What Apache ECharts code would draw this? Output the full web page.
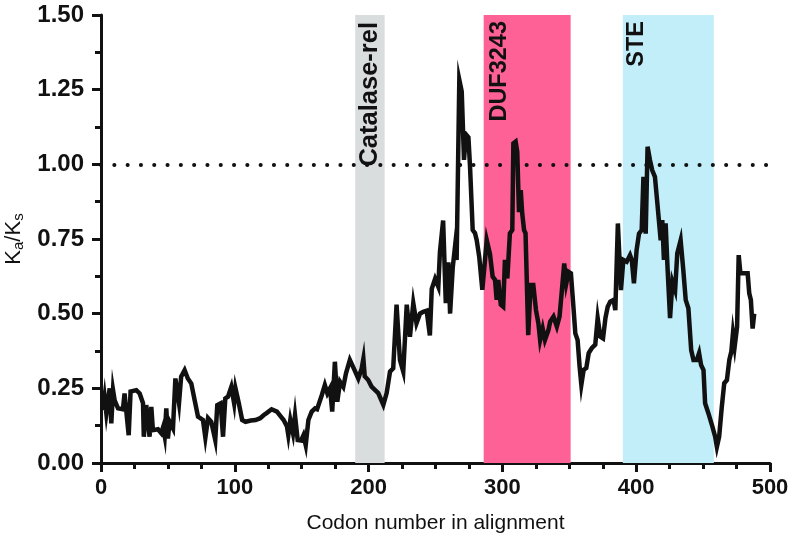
<!DOCTYPE html>
<html>
<head>
<meta charset="utf-8">
<script src="https://cdn.jsdelivr.net/npm/echarts@6/dist/echarts.min.js"></script>
<style>
  html, body { margin: 0; padding: 0; background: #fff; }
  #chart { width: 793px; height: 549px; }
</style>
</head>
<body>
<div id="chart"></div>
<script>
// codon position along the alignment
var codon = [
  1.5, 2.7, 4, 6.5, 7.7, 9, 10.2, 12.7, 16.4, 17.6, 20.7, 22.1, 26.4, 28.9, 31.4, 32, 33.8, 36.3, 37.6, 38.8,
  42.6, 45, 46.4, 47.6, 48.8, 50, 51.3, 53.8, 55.6, 58.3, 59.9, 62.5, 64.9, 67.5, 70, 72.5, 76.2, 78, 80, 82.4,
  85.4, 86.9, 89.4, 91.2, 92.9, 94.9, 97.4, 99.5, 100.5, 103, 105.5, 108, 112, 115.5, 119, 121.5, 124, 127.5, 131.5, 134,
  136.5, 139, 140, 141.5, 143.5, 145, 147, 149.5, 151.3, 153, 155, 157.5, 160, 161.5, 165, 167.3, 169.2, 171.2, 172.8, 174.8,
  176.6, 178.7, 181.1, 183.1, 186, 189, 192.3, 194.8, 196.1, 197.1, 199.7, 202.2, 204.7, 207.2, 211, 213.5, 216, 218.4, 220.9, 223.4,
  225.9, 228.5, 230.9, 233.4, 235.8, 238.4, 240.8, 243.4, 245.8, 247.2, 249.7, 252.1, 253.3, 255.7, 257.7, 259.6, 260.9, 262.9, 264.6, 265.8,
  267.8, 269.6, 271.3, 272.8, 274.6, 275.8, 277.8, 279.5, 280.8, 282.7, 285, 288.3, 290.7, 292.7, 294.5, 295.7, 296.9, 298.8, 300.6, 301.9,
  303.7, 305.6, 307.4, 308.2, 309.9, 311.1, 312.4, 313.7, 314.8, 316.2, 317.3, 319.3, 321.1, 323.1, 325.1, 326.9, 328.2, 330.1, 331.8, 334.4,
  335.7, 338.2, 340.7, 342.7, 344.5, 346.2, 347.7, 349.5, 351.2, 352.7, 354.5, 356.2, 357.7, 359, 360.7, 362.7, 364.5, 366.9, 369.4, 371.2,
  373.2, 375.2, 377, 378.7, 380.6, 383.1, 384.4, 386.3, 388.6, 390.4, 392.9, 395.4, 396.7, 398.3, 400.3, 402.1, 404.1, 405.4, 407.1, 408.5,
  410.3, 412, 414, 415.7, 417, 418.3, 419.5, 420.7, 422, 423.5, 425.3, 427.1, 429.1, 430.7, 433.2, 435.2, 437, 439, 441.1, 442.8,
  445.3, 447, 448.5, 450.3, 451.5, 454, 457, 459, 460.3, 462, 464, 465.8, 467.8, 469.6, 471.1, 472.3, 473.6, 475.4, 476.6, 477.9,
  480.3, 483.3, 484.5, 485.7, 487, 488.2
];
// Ka/Ks ratio at each codon
var kaks = [
  0.177, 0.221, 0.166, 0.25, 0.133, 0.244, 0.21, 0.183, 0.18, 0.233, 0.093, 0.239, 0.244, 0.233, 0.2, 0.088, 0.194, 0.088, 0.188, 0.11,
  0.113, 0.1, 0.12, 0.09, 0.183, 0.082, 0.138, 0.116, 0.283, 0.2, 0.289, 0.311, 0.283, 0.266, 0.21, 0.155, 0.144, 0.085, 0.15, 0.138,
  0.077, 0.194, 0.2, 0.088, 0.216, 0.222, 0.255, 0.2, 0.25, 0.2, 0.144, 0.138, 0.142, 0.144, 0.15, 0.16, 0.168, 0.18, 0.172, 0.158,
  0.144, 0.122, 0.093, 0.144, 0.1, 0.16, 0.077, 0.075, 0.093, 0.06, 0.144, 0.172, 0.183, 0.18, 0.227, 0.261, 0.233, 0.25, 0.172, 0.339,
  0.205, 0.272, 0.255, 0.3, 0.345, 0.316, 0.283, 0.316, 0.349, 0.29, 0.278, 0.256, 0.245, 0.234, 0.195, 0.234, 0.306, 0.317, 0.53, 0.345,
  0.306, 0.53, 0.423, 0.535, 0.468, 0.5, 0.506, 0.51, 0.427, 0.583, 0.617, 0.59, 0.706, 0.812, 0.535, 0.672, 0.5, 0.655, 0.725, 0.68,
  1.283, 1.244, 1.015, 1.1, 1.09, 0.993, 0.78, 0.77, 0.746, 0.69, 0.58, 0.746, 0.70, 0.624, 0.613, 0.546, 0.613, 0.53, 0.523, 0.68,
  0.618, 0.769, 0.78, 1.07, 1.076, 1.042, 0.84, 0.914, 0.836, 0.78, 0.769, 0.428, 0.596, 0.596, 0.512, 0.468, 0.412, 0.45, 0.412, 0.445,
  0.473, 0.49, 0.457, 0.49, 0.58, 0.668, 0.6, 0.64, 0.635, 0.546, 0.434, 0.412, 0.323, 0.262, 0.312, 0.318, 0.368, 0.385, 0.396, 0.485,
  0.423, 0.417, 0.485, 0.523, 0.54, 0.546, 0.512, 0.802, 0.579, 0.68, 0.674, 0.696, 0.68, 0.602, 0.713, 0.768, 0.78, 0.958, 0.768, 1.059,
  1.014, 0.98, 0.958, 0.875, 0.88, 0.746, 0.813, 0.68, 0.802, 0.646, 0.485, 0.607, 0.579, 0.702, 0.746, 0.646, 0.546, 0.518, 0.378, 0.345,
  0.345, 0.368, 0.328, 0.311, 0.2, 0.166, 0.121, 0.088, 0.054, 0.088, 0.189, 0.267, 0.278, 0.345, 0.373, 0.434, 0.39, 0.456, 0.696, 0.635,
  0.635, 0.635, 0.568, 0.546, 0.45, 0.5
];
// domain regions
var domainNames = ['Catalase-rel', 'DUF3243', 'STE'];
var domainStart = [190, 286, 390];
var domainEnd = [212, 351, 458];
var neutralLine = 1.0;

var xTicks = [0, 100, 200, 300, 400, 500];
var yTicks = [0, 0.25, 0.5, 0.75, 1.0, 1.25, 1.5];

var bandColors = ['#d9dddd', '#fd6195', '#c2eefa'];
var bandLabelPos = [['50%', 7], [16, 6], [14, 6]];
var bandLabelSize = [25.5, 23.5, 23.5];

var lineData = codon.map(function (c, i) { return [c, kaks[i]]; });

var areas = domainNames.map(function (n, i) {
  return [{
    xAxis: domainStart[i],
    yAxis: yTicks[yTicks.length - 1],
    name: n,
    itemStyle: { color: bandColors[i] },
    label: {
      show: true,
      position: bandLabelPos[i],
      rotate: 90,
      align: 'right',
      verticalAlign: 'middle',
      color: '#111',
      fontWeight: 'bold',
      fontSize: bandLabelSize[i],
      fontFamily: 'Liberation Sans'
    }
  }, {
    xAxis: domainEnd[i],
    yAxis: yTicks[0]
  }];
});

var chart = echarts.init(document.getElementById('chart'));
chart.setOption({
  animation: false,
  backgroundColor: '#fff',
  grid: { left: 101, right: 23, top: 15, bottom: 86, containLabel: false, outerBoundsMode: 'none' },
  xAxis: {
    type: 'value',
    min: xTicks[0],
    max: xTicks[xTicks.length - 1],
    interval: 100,
    name: 'Codon number in alignment',
    nameLocation: 'middle',
    nameGap: 50,
    nameTextStyle: { color: '#111', fontSize: 21, fontFamily: 'Liberation Sans' },
    axisLine: { lineStyle: { color: '#111', width: 3 } },
    axisTick: { length: 9, lineStyle: { width: 3, color: '#111' } },
    minorTick: { show: true, splitNumber: 4, length: 6, lineStyle: { width: 3, color: '#111' } },
    splitLine: { show: false },
    axisLabel: { color: '#111', fontWeight: 'bold', fontSize: 22, fontFamily: 'Liberation Sans', margin: 14 }
  },
  yAxis: {
    type: 'value',
    min: yTicks[0],
    max: yTicks[yTicks.length - 1],
    interval: 0.25,
    name: '{k|K}{s|a}{k|/K}{s|s}',
    nameLocation: 'middle',
    nameGap: 72,
    nameTextStyle: {
      color: '#111',
      rich: {
        k: { fontSize: 22, fontFamily: 'Liberation Sans', color: '#111' },
        s: { fontSize: 15, fontFamily: 'Liberation Sans', color: '#111', padding: [10, 0, 0, 0] }
      }
    },
    axisLine: { show: true, lineStyle: { color: '#111', width: 3 } },
    axisTick: { show: true, length: 9, lineStyle: { width: 3, color: '#111' } },
    minorTick: { show: true, splitNumber: 2, length: 6, lineStyle: { width: 3, color: '#111' } },
    splitLine: { show: false },
    axisLabel: {
      color: '#111', fontWeight: 'bold', fontSize: 24, fontFamily: 'Liberation Sans', margin: 17,
      formatter: function (v) { return v.toFixed(2); }
    }
  },
  series: [
    {
      type: 'line',
      data: [],
      silent: true,
      markArea: { silent: true, data: areas }
    },
    {
      type: 'line',
      data: [],
      silent: true,
      z: 3,
      markLine: {
        silent: true,
        symbol: 'none',
        label: { show: false },
        lineStyle: { color: '#111', width: 4, type: [0.1, 13.2], cap: 'round' },
        data: [{ yAxis: neutralLine }]
      }
    },
    {
      type: 'line',
      data: lineData,
      z: 5,
      showSymbol: false,
      lineStyle: { color: '#111', width: 4.5, join: 'miter' },
      itemStyle: { color: '#111' }
    }
  ]
});
</script>
</body>
</html>
